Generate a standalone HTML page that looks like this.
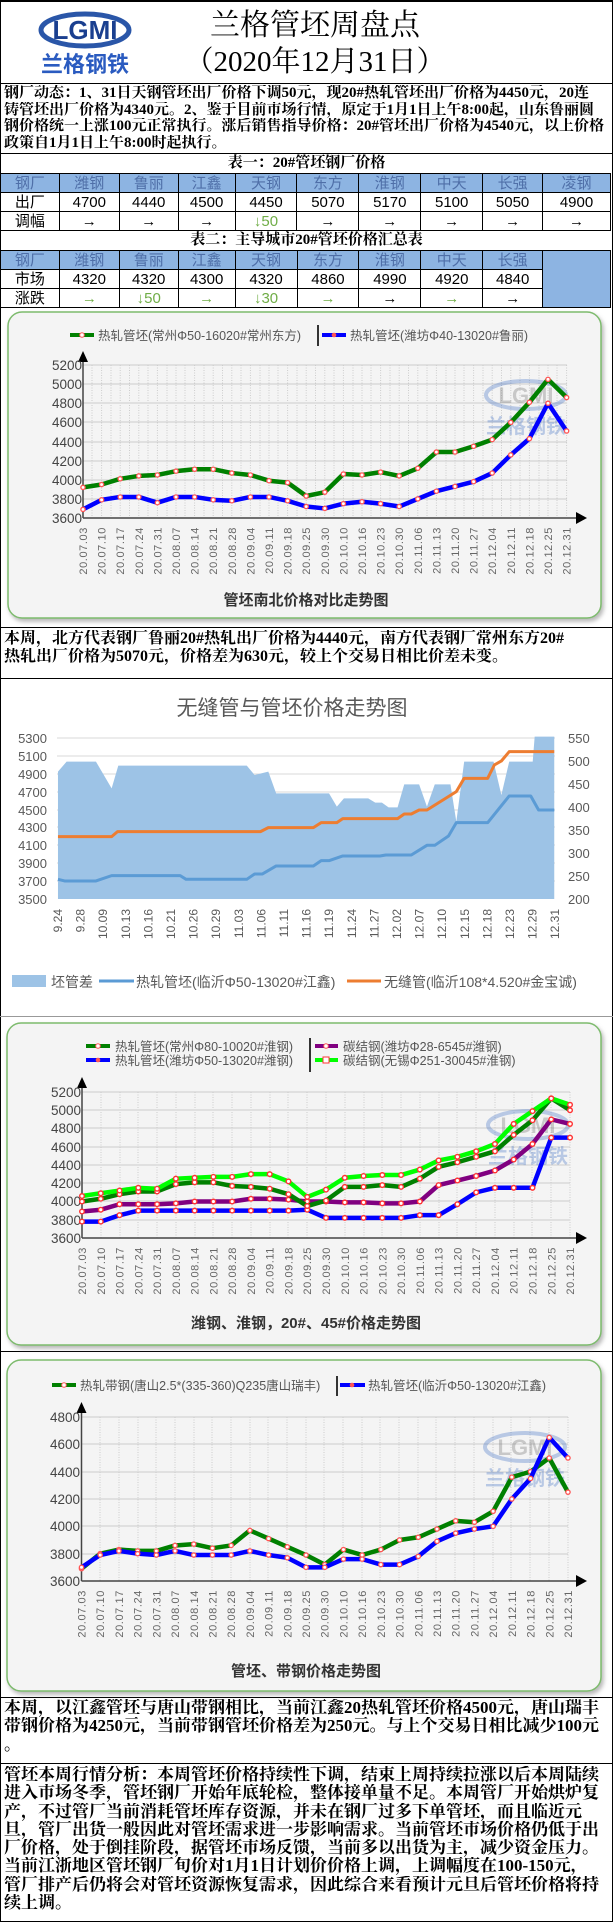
<!DOCTYPE html>
<html><head><meta charset="utf-8">
<style>
*{margin:0;padding:0;box-sizing:border-box}
body{width:613px;height:1922px;position:relative;background:#fff;font-family:"Liberation Serif","Noto Serif CJK SC",serif;overflow:hidden}
.abs{position:absolute}
.p{position:absolute;left:4px;font-weight:bold;color:#000;white-space:nowrap}
.p div{overflow:hidden}
.hl{position:absolute;left:0;width:613px;height:1px;background:#000}
table{position:absolute;left:0;border-collapse:collapse;font-family:"Liberation Sans","Noto Sans CJK SC",sans-serif;font-size:15px}
td{border:1px solid #000;text-align:center;height:19px;padding:0;line-height:17px}
.bh td{background:#8db4e2;color:#4f6fa8}
.g{color:#70ad47}
.ttl{position:absolute;left:0;width:613px;text-align:center;font-weight:bold;font-size:15px;font-family:"Liberation Serif","Noto Serif CJK SC",serif}
svg text{font-family:"Liberation Sans","Noto Sans CJK SC",sans-serif}
</style></head><body>
<div class="abs" style="left:0;top:0;width:613px;height:1922px;border:1px solid #000;border-top:2px solid #000"></div>

<svg class="abs" style="left:38px;top:8px" width="100" height="72">
<ellipse cx="47" cy="22" rx="44" ry="16" fill="none" stroke="#2a56a8" stroke-width="5"/>
<text x="47" y="31" text-anchor="middle" font-size="26" font-weight="bold" fill="#1a3f8f" font-family="Liberation Sans">LGMI</text>
<text x="47" y="64" text-anchor="middle" font-size="22" font-weight="bold" fill="#2a5bc0" font-family="Noto Serif CJK SC">兰格钢铁</text>
</svg>
<div class="abs" style="left:180px;top:8px;width:270px;text-align:center;font-size:30px;font-family:'Liberation Serif','Noto Serif CJK SC',serif;line-height:36px">兰格管坯周盘点</div>
<div class="abs" style="left:170px;top:44px;width:290px;text-align:center;font-size:29px;font-family:'Liberation Serif','Noto Serif CJK SC',serif;line-height:36px">（2020年12月31日）</div>
<div class="hl" style="top:83px"></div>

<div class="p" style="top:85px;font-size:15px;line-height:16.7px;width:607px">
<div>钢厂动态：1、31日天钢管坯出厂价格下调50元，现20#热轧管坯出厂价格为4450元，20连</div>
<div>铸管坯出厂价格为4340元。2、鉴于目前市场行情，原定于1月1日上午8:00起，山东鲁丽圆</div>
<div>钢价格统一上涨100元正常执行。涨后销售指导价格：20#管坯出厂价格为4540元，以上价格</div>
<div>政策自1月1日上午8:00时起执行。</div>
</div>
<div class="hl" style="top:153px"></div>
<div class="ttl" style="top:154px;line-height:19px">表一：20#管坯钢厂价格</div>

<table style="top:173px;width:611px">
<colgroup><col style="width:59px"><col style="width:60px"><col style="width:59px"><col style="width:57px"><col style="width:62px"><col style="width:62px"><col style="width:62px"><col style="width:62px"><col style="width:60px"><col style="width:68px"></colgroup>
<tr class="bh"><td>钢厂</td><td>潍钢</td><td>鲁丽</td><td>江鑫</td><td>天钢</td><td>东方</td><td>淮钢</td><td>中天</td><td>长强</td><td>凌钢</td></tr>
<tr><td>出厂</td><td>4700</td><td>4440</td><td>4500</td><td>4450</td><td>5070</td><td>5170</td><td>5100</td><td>5050</td><td>4900</td></tr>
<tr><td>调幅</td><td>→</td><td>→</td><td>→</td><td class="g">↓50</td><td>→</td><td>→</td><td>→</td><td>→</td><td>→</td></tr>
</table>
<div class="ttl" style="top:231px;line-height:19px">表二：主导城市20#管坯价格汇总表</div>
<table style="top:250px;width:611px">
<colgroup><col style="width:59px"><col style="width:60px"><col style="width:59px"><col style="width:57px"><col style="width:62px"><col style="width:62px"><col style="width:62px"><col style="width:62px"><col style="width:60px"><col style="width:68px"></colgroup>
<tr class="bh"><td>钢厂</td><td>潍钢</td><td>鲁丽</td><td>江鑫</td><td>天钢</td><td>东方</td><td>淮钢</td><td>中天</td><td>长强</td><td rowspan="3" style="background:#8db4e2"></td></tr>
<tr><td>市场</td><td>4320</td><td>4320</td><td>4300</td><td>4320</td><td>4860</td><td>4990</td><td>4920</td><td>4840</td></tr>
<tr><td>涨跌</td><td class="g">→</td><td class="g">↓50</td><td class="g">→</td><td class="g">↓30</td><td class="g">→</td><td>→</td><td class="g">→</td><td>→</td></tr>
</table>

<div class="hl" style="top:627px"></div>
<div class="p" style="top:630px;font-size:16px;line-height:17.5px">
<div>本周，北方代表钢厂鲁丽20#热轧出厂价格为4440元，南方代表钢厂常州东方20#</div>
<div>热轧出厂价格为5070元，价格差为630元，较上个交易日相比价差未变。</div>
</div>
<div class="hl" style="top:678px"></div>
<div class="hl" style="top:1016px;background:#999"></div>
<div class="hl" style="top:1351px"></div>
<div class="hl" style="top:1697px"></div>
<div class="p" style="top:1699px;font-size:17px;line-height:18.3px">
<div>本周，以江鑫管坯与唐山带钢相比，当前江鑫20热轧管坯价格4500元，唐山瑞丰</div>
<div>带钢价格为4250元，当前带钢管坯价格差为250元。与上个交易日相比减少100元</div>
<div>。</div>
</div>
<div class="hl" style="top:1763px"></div>
<div class="p" style="top:1766px;font-size:17px;line-height:18.3px">
<div>管坯本周行情分析：本周管坯价格持续性下调，结束上周持续拉涨以后本周陆续</div>
<div>进入市场冬季，管坯钢厂开始年底轮检，整体接单量不足。本周管厂开始烘炉复</div>
<div>产，不过管厂当前消耗管坯库存资源，并未在钢厂过多下单管坯，而且临近元</div>
<div>旦，管厂出货一般因此对管坯需求进一步影响需求。当前管坯市场价格仍低于出</div>
<div>厂价格，处于倒挂阶段，据管坯市场反馈，当前多以出货为主，减少资金压力。</div>
<div>当前江浙地区管坯钢厂旬价对1月1日计划价价格上调，上调幅度在100-150元，</div>
<div>管厂排产后仍将会对管坯资源恢复需求，因此综合来看预计元旦后管坯价格将持</div>
<div>续上调。</div>
</div>

<svg class="abs" style="left:0;top:0" width="613" height="1922">
<defs>
<filter id="sh"><feDropShadow dx="2" dy="3" stdDeviation="2" flood-color="#888" flood-opacity="0.6"/></filter>
<marker id="m1" markerUnits="userSpaceOnUse" refX="0" refY="0" overflow="visible" markerWidth="1" markerHeight="1"><ellipse cx="0" cy="0" rx="0.15" ry="29" fill="#f55"/><ellipse cx="0" cy="0" rx="0.08" ry="15" fill="#fff"/></marker>
<marker id="m3" markerUnits="userSpaceOnUse" refX="0" refY="0" overflow="visible" markerWidth="1" markerHeight="1"><ellipse cx="0" cy="0" rx="0.16" ry="33" fill="#f33"/><ellipse cx="0" cy="0" rx="0.085" ry="17" fill="#fff"/></marker>
<marker id="m4" markerUnits="userSpaceOnUse" refX="0" refY="0" overflow="visible" markerWidth="1" markerHeight="1"><ellipse cx="0" cy="0" rx="0.15" ry="20.5" fill="#f55"/><ellipse cx="0" cy="0" rx="0.08" ry="10.5" fill="#fff"/></marker>
</defs>

<rect x="8" y="312" width="593" height="306" rx="14" fill="#f4f4f4" stroke="#7dbb6d" stroke-width="1.5" filter="url(#sh)"/>
<line x1="318" y1="325" x2="318" y2="346" stroke="#333" stroke-width="2"/>
<line x1="70" y1="335" x2="94" y2="335" stroke="#008000" stroke-width="4"/><circle cx="82" cy="335" r="2.3" fill="#fff" stroke="#f55"/>
<text x="98" y="340" font-size="12.5" fill="#555">热轧管坯(常州Φ50-16020#常州东方)</text>
<line x1="322" y1="335" x2="346" y2="335" stroke="#00f" stroke-width="4"/><circle cx="334" cy="335" r="2.3" fill="#f55"/>
<text x="350" y="340" font-size="12.5" fill="#555">热轧管坯(潍坊Φ40-13020#鲁丽)</text>
<g stroke="#ccc" stroke-width="1">
<line x1="83" y1="365" x2="567" y2="365"/><line x1="83" y1="384" x2="567" y2="384"/><line x1="83" y1="403" x2="567" y2="403"/><line x1="83" y1="422" x2="567" y2="422"/><line x1="83" y1="442" x2="567" y2="442"/><line x1="83" y1="461" x2="567" y2="461"/><line x1="83" y1="480" x2="567" y2="480"/><line x1="83" y1="499" x2="567" y2="499"/>
</g>
<g stroke="#ccc" stroke-width="1" stroke-dasharray="1,1.5">
<line x1="92" y1="365" x2="92" y2="518"/><line x1="101.6" y1="365" x2="101.6" y2="518"/><line x1="111" y1="365" x2="111" y2="518"/><line x1="120.2" y1="365" x2="120.2" y2="518"/><line x1="129.5" y1="365" x2="129.5" y2="518"/><line x1="138.8" y1="365" x2="138.8" y2="518"/><line x1="148" y1="365" x2="148" y2="518"/><line x1="157.4" y1="365" x2="157.4" y2="518"/><line x1="167" y1="365" x2="167" y2="518"/><line x1="176" y1="365" x2="176" y2="518"/><line x1="185" y1="365" x2="185" y2="518"/><line x1="194.6" y1="365" x2="194.6" y2="518"/><line x1="204" y1="365" x2="204" y2="518"/><line x1="213.2" y1="365" x2="213.2" y2="518"/><line x1="222.5" y1="365" x2="222.5" y2="518"/><line x1="231.8" y1="365" x2="231.8" y2="518"/><line x1="241" y1="365" x2="241" y2="518"/><line x1="250.4" y1="365" x2="250.4" y2="518"/><line x1="260" y1="365" x2="260" y2="518"/><line x1="269" y1="365" x2="269" y2="518"/><line x1="278" y1="365" x2="278" y2="518"/><line x1="287.6" y1="365" x2="287.6" y2="518"/><line x1="297" y1="365" x2="297" y2="518"/><line x1="306.2" y1="365" x2="306.2" y2="518"/><line x1="315.5" y1="365" x2="315.5" y2="518"/><line x1="324.8" y1="365" x2="324.8" y2="518"/><line x1="334" y1="365" x2="334" y2="518"/><line x1="343.4" y1="365" x2="343.4" y2="518"/><line x1="353" y1="365" x2="353" y2="518"/><line x1="362" y1="365" x2="362" y2="518"/><line x1="371" y1="365" x2="371" y2="518"/><line x1="380.6" y1="365" x2="380.6" y2="518"/><line x1="390" y1="365" x2="390" y2="518"/><line x1="399.2" y1="365" x2="399.2" y2="518"/><line x1="408.5" y1="365" x2="408.5" y2="518"/><line x1="417.8" y1="365" x2="417.8" y2="518"/><line x1="427" y1="365" x2="427" y2="518"/><line x1="436.4" y1="365" x2="436.4" y2="518"/><line x1="446" y1="365" x2="446" y2="518"/><line x1="455" y1="365" x2="455" y2="518"/><line x1="464" y1="365" x2="464" y2="518"/><line x1="473.6" y1="365" x2="473.6" y2="518"/><line x1="483" y1="365" x2="483" y2="518"/><line x1="492.2" y1="365" x2="492.2" y2="518"/><line x1="501.5" y1="365" x2="501.5" y2="518"/><line x1="510.8" y1="365" x2="510.8" y2="518"/><line x1="520" y1="365" x2="520" y2="518"/><line x1="529.4" y1="365" x2="529.4" y2="518"/><line x1="539" y1="365" x2="539" y2="518"/><line x1="548" y1="365" x2="548" y2="518"/><line x1="557" y1="365" x2="557" y2="518"/><line x1="566.6" y1="365" x2="566.6" y2="518"/>
</g>
<g opacity="0.35"><ellipse cx="526" cy="395" rx="40" ry="14" fill="none" stroke="#4a78c8" stroke-width="4"/><text x="526" y="403" text-anchor="middle" font-size="22" font-weight="bold" fill="#777">LGMI</text><text x="526" y="433" text-anchor="middle" font-size="20" font-weight="bold" fill="#4a78c8" font-family="Noto Serif CJK SC">兰格钢铁</text></g>
<line x1="83" y1="518" x2="578" y2="518" stroke="#444" stroke-width="1.5"/><polygon points="576,512 587,518 576,524" fill="#000"/>
<line x1="83" y1="518" x2="83" y2="360" stroke="#444" stroke-width="1.5"/><polygon points="78,362 83,351 88,362" fill="#000"/>
<g font-size="13.5" fill="#444" text-anchor="end">
<text x="82" y="370">5200</text><text x="82" y="389">5000</text><text x="82" y="408">4800</text><text x="82" y="427">4600</text><text x="82" y="447">4400</text><text x="82" y="466">4200</text><text x="82" y="485">4000</text><text x="82" y="504">3800</text><text x="82" y="523">3600</text>
</g>
<g transform="matrix(18.6 0 0 -0.095625 83 862.25)" fill="none" stroke-linejoin="round">
<polyline vector-effect="non-scaling-stroke" stroke="#008000" stroke-width="4.5" marker-start="url(#m1)" marker-mid="url(#m1)" marker-end="url(#m1)" points="0,3920 1,3950 2,4010 3,4040 4,4050 5,4090 6,4110 7,4110 8,4070 9,4050 10,3990 11,3970 12,3830 13,3870 14,4060 15,4050 16,4080 17,4040 18,4120 19,4290 20,4290 21,4350 22,4420 23,4600 24,4810 25,5050 26,4860"/>
<polyline vector-effect="non-scaling-stroke" stroke="#0000ff" stroke-width="4.5" marker-start="url(#m1)" marker-mid="url(#m1)" marker-end="url(#m1)" points="0,3690 1,3790 2,3820 3,3820 4,3760 5,3820 6,3820 7,3790 8,3780 9,3820 10,3820 11,3780 12,3720 13,3700 14,3750 15,3770 16,3750 17,3720 18,3800 19,3880 20,3930 21,3980 22,4070 23,4260 24,4430 25,4800 26,4510"/>
</g>
<g font-size="11" fill="#666" text-anchor="end" letter-spacing="0.6">
<text transform="translate(87,527) rotate(-90)">20.07.03</text><text transform="translate(105.6,527) rotate(-90)">20.07.10</text><text transform="translate(124.2,527) rotate(-90)">20.07.17</text><text transform="translate(142.8,527) rotate(-90)">20.07.24</text><text transform="translate(161.4,527) rotate(-90)">20.07.31</text><text transform="translate(180,527) rotate(-90)">20.08.07</text><text transform="translate(198.6,527) rotate(-90)">20.08.14</text><text transform="translate(217.2,527) rotate(-90)">20.08.21</text><text transform="translate(235.8,527) rotate(-90)">20.08.28</text><text transform="translate(254.4,527) rotate(-90)">20.09.04</text><text transform="translate(273,527) rotate(-90)">20.09.11</text><text transform="translate(291.6,527) rotate(-90)">20.09.18</text><text transform="translate(310.2,527) rotate(-90)">20.09.25</text><text transform="translate(328.8,527) rotate(-90)">20.09.30</text><text transform="translate(347.4,527) rotate(-90)">20.10.10</text><text transform="translate(366,527) rotate(-90)">20.10.16</text><text transform="translate(384.6,527) rotate(-90)">20.10.23</text><text transform="translate(403.2,527) rotate(-90)">20.10.30</text><text transform="translate(421.8,527) rotate(-90)">20.11.06</text><text transform="translate(440.4,527) rotate(-90)">20.11.13</text><text transform="translate(459,527) rotate(-90)">20.11.20</text><text transform="translate(477.6,527) rotate(-90)">20.11.27</text><text transform="translate(496.2,527) rotate(-90)">20.12.04</text><text transform="translate(514.8,527) rotate(-90)">20.12.11</text><text transform="translate(533.4,527) rotate(-90)">20.12.18</text><text transform="translate(552,527) rotate(-90)">20.12.25</text><text transform="translate(570.6,527) rotate(-90)">20.12.31</text>
</g>
<text x="306" y="605" text-anchor="middle" font-size="15" font-weight="bold" fill="#333">管坯南北价格对比走势图</text>

<rect x="2" y="679" width="609" height="336" fill="#fff"/>
<text x="292" y="715" text-anchor="middle" font-size="21" fill="#595959">无缝管与管坯价格走势图</text>
<g stroke="#d9d9d9" stroke-width="1">
<line x1="57" y1="738" x2="555" y2="738"/><line x1="57" y1="756" x2="555" y2="756"/><line x1="57" y1="774" x2="555" y2="774"/><line x1="57" y1="792" x2="555" y2="792"/><line x1="57" y1="810" x2="555" y2="810"/><line x1="57" y1="827" x2="555" y2="827"/><line x1="57" y1="845" x2="555" y2="845"/><line x1="57" y1="863" x2="555" y2="863"/><line x1="57" y1="881" x2="555" y2="881"/>
</g>
<g transform="translate(0,620) scale(0.3917,0.3333)">
<polygon fill="#9dc3e6" points="148,455 170,425 245,425 285,505 302,437 630,437 650,465 685,455 705,520 840,520 860,560 878,535 940,535 958,548 975,548 992,562 1015,562 1032,493 1070,493 1090,560 1110,493 1150,493 1165,605 1185,425 1260,425 1280,525 1300,425 1360,425 1365,350 1415,350 1415,837 148,837"/>
<polyline vector-effect="non-scaling-stroke" fill="none" stroke="#5b9bd5" stroke-width="3" stroke-linejoin="round" points="148,778 165,783 245,783 285,767 460,767 475,778 630,778 650,762 670,762 705,738 800,738 820,722 840,722 875,708 970,708 985,705 1050,705 1090,676 1110,676 1145,648 1165,608 1245,608 1300,528 1355,528 1375,570 1415,570"/>
<polyline vector-effect="non-scaling-stroke" fill="none" stroke="#ed7d31" stroke-width="3" stroke-linejoin="round" points="148,650 285,650 300,635 665,635 685,623 800,623 820,608 860,608 875,596 1015,596 1032,582 1050,582 1070,570 1090,570 1165,515 1185,475 1245,475 1262,435 1280,423 1300,395 1415,395"/>
</g>
<g font-size="13" fill="#595959" text-anchor="end">
<text x="47" y="743">5300</text><text x="47" y="761">5100</text><text x="47" y="779">4900</text><text x="47" y="797">4700</text><text x="47" y="815">4500</text><text x="47" y="832">4300</text><text x="47" y="850">4100</text><text x="47" y="868">3900</text><text x="47" y="886">3700</text><text x="47" y="904">3500</text>
</g>
<g font-size="13" fill="#595959">
<text x="568" y="743">550</text><text x="568" y="766">500</text><text x="568" y="789">450</text><text x="568" y="812">400</text><text x="568" y="835">350</text><text x="568" y="858">300</text><text x="568" y="881">250</text><text x="568" y="904">200</text>
</g>
<g font-size="12" fill="#595959" text-anchor="end">
<text transform="translate(62,909) rotate(-90)">9.24</text><text transform="translate(84.6,909) rotate(-90)">9.28</text><text transform="translate(107.2,909) rotate(-90)">10.09</text><text transform="translate(129.8,909) rotate(-90)">10.13</text><text transform="translate(152.4,909) rotate(-90)">10.16</text><text transform="translate(175,909) rotate(-90)">10.21</text><text transform="translate(197.6,909) rotate(-90)">10.26</text><text transform="translate(220.2,909) rotate(-90)">10.29</text><text transform="translate(242.8,909) rotate(-90)">11.03</text><text transform="translate(265.4,909) rotate(-90)">11.06</text><text transform="translate(288,909) rotate(-90)">11.11</text><text transform="translate(310.6,909) rotate(-90)">11.16</text><text transform="translate(333.2,909) rotate(-90)">11.19</text><text transform="translate(355.8,909) rotate(-90)">11.24</text><text transform="translate(378.4,909) rotate(-90)">11.27</text><text transform="translate(401,909) rotate(-90)">12.02</text><text transform="translate(423.6,909) rotate(-90)">12.07</text><text transform="translate(446.2,909) rotate(-90)">12.10</text><text transform="translate(468.8,909) rotate(-90)">12.15</text><text transform="translate(491.4,909) rotate(-90)">12.18</text><text transform="translate(514,909) rotate(-90)">12.23</text><text transform="translate(536.6,909) rotate(-90)">12.29</text><text transform="translate(559.2,909) rotate(-90)">12.31</text>
</g>
<rect x="12" y="975" width="34" height="12" fill="#9dc3e6"/>
<text x="51" y="987" font-size="14" fill="#595959">坯管差</text>
<line x1="99" y1="981" x2="134" y2="981" stroke="#5b9bd5" stroke-width="3"/>
<text x="136" y="987" font-size="14" fill="#595959">热轧管坯(临沂Φ50-13020#江鑫)</text>
<line x1="347" y1="981" x2="381" y2="981" stroke="#ed7d31" stroke-width="3"/>
<text x="384" y="987" font-size="14" fill="#595959">无缝管(临沂108*4.520#金宝诚)</text>

<rect x="7" y="1023" width="594" height="322" rx="14" fill="#f4f4f4" stroke="#7dbb6d" stroke-width="1.5" filter="url(#sh)"/>
<line x1="310" y1="1038" x2="310" y2="1072" stroke="#333" stroke-width="2"/>
<line x1="86" y1="1046" x2="110" y2="1046" stroke="#008000" stroke-width="4"/><circle cx="98" cy="1046" r="2.3" fill="#fff" stroke="#f55"/>
<text x="115" y="1051" font-size="12.5" fill="#555">热轧管坯(常州Φ80-10020#淮钢)</text>
<line x1="86" y1="1060" x2="110" y2="1060" stroke="#00f" stroke-width="4"/><circle cx="98" cy="1060" r="2.3" fill="#f55"/>
<text x="115" y="1065" font-size="12.5" fill="#555">热轧管坯(潍坊Φ50-13020#潍钢)</text>
<line x1="315" y1="1046" x2="338" y2="1046" stroke="#800080" stroke-width="4"/><circle cx="326" cy="1046" r="2.3" fill="#fff" stroke="#f55"/>
<text x="343" y="1051" font-size="12.5" fill="#555">碳结钢(潍坊Φ28-6545#潍钢)</text>
<line x1="315" y1="1060" x2="338" y2="1060" stroke="#00ff00" stroke-width="4"/><rect x="323" y="1057" width="6" height="6" fill="#fff" stroke="#f33"/>
<text x="343" y="1065" font-size="12.5" fill="#555">碳结钢(无锡Φ251-30045#淮钢)</text>
<g stroke="#ccc" stroke-width="1">
<line x1="82" y1="1092" x2="570" y2="1092"/><line x1="82" y1="1110" x2="570" y2="1110"/><line x1="82" y1="1128" x2="570" y2="1128"/><line x1="82" y1="1147" x2="570" y2="1147"/><line x1="82" y1="1165" x2="570" y2="1165"/><line x1="82" y1="1183" x2="570" y2="1183"/><line x1="82" y1="1201" x2="570" y2="1201"/><line x1="82" y1="1220" x2="570" y2="1220"/>
</g>
<g stroke="#ccc" stroke-width="1" stroke-dasharray="1,1.5">
<line x1="101" y1="1092" x2="101" y2="1238"/><line x1="120" y1="1092" x2="120" y2="1238"/><line x1="138" y1="1092" x2="138" y2="1238"/><line x1="157" y1="1092" x2="157" y2="1238"/><line x1="176" y1="1092" x2="176" y2="1238"/><line x1="195" y1="1092" x2="195" y2="1238"/><line x1="213" y1="1092" x2="213" y2="1238"/><line x1="232" y1="1092" x2="232" y2="1238"/><line x1="251" y1="1092" x2="251" y2="1238"/><line x1="270" y1="1092" x2="270" y2="1238"/><line x1="288" y1="1092" x2="288" y2="1238"/><line x1="307" y1="1092" x2="307" y2="1238"/><line x1="326" y1="1092" x2="326" y2="1238"/><line x1="345" y1="1092" x2="345" y2="1238"/><line x1="364" y1="1092" x2="364" y2="1238"/><line x1="382" y1="1092" x2="382" y2="1238"/><line x1="401" y1="1092" x2="401" y2="1238"/><line x1="420" y1="1092" x2="420" y2="1238"/><line x1="439" y1="1092" x2="439" y2="1238"/><line x1="457" y1="1092" x2="457" y2="1238"/><line x1="476" y1="1092" x2="476" y2="1238"/><line x1="495" y1="1092" x2="495" y2="1238"/><line x1="514" y1="1092" x2="514" y2="1238"/><line x1="532" y1="1092" x2="532" y2="1238"/><line x1="551" y1="1092" x2="551" y2="1238"/><line x1="570" y1="1092" x2="570" y2="1238"/>
</g>
<g opacity="0.35"><ellipse cx="528" cy="1125" rx="40" ry="14" fill="none" stroke="#4a78c8" stroke-width="4"/><text x="528" y="1133" text-anchor="middle" font-size="22" font-weight="bold" fill="#777">LGMI</text><text x="528" y="1163" text-anchor="middle" font-size="20" font-weight="bold" fill="#4a78c8" font-family="Noto Serif CJK SC">兰格钢铁</text></g>
<line x1="82" y1="1238" x2="578" y2="1238" stroke="#444" stroke-width="1.5"/><polygon points="576,1232 587,1238 576,1244" fill="#000"/>
<line x1="82" y1="1238" x2="82" y2="1086" stroke="#444" stroke-width="1.5"/><polygon points="77,1088 82,1077 87,1088" fill="#000"/>
<g font-size="13.5" fill="#444" text-anchor="end">
<text x="81" y="1097">5200</text><text x="81" y="1115">5000</text><text x="81" y="1133">4800</text><text x="81" y="1152">4600</text><text x="81" y="1170">4400</text><text x="81" y="1188">4200</text><text x="81" y="1206">4000</text><text x="81" y="1225">3800</text><text x="81" y="1243">3600</text>
</g>
<g transform="matrix(18.77 0 0 -0.09125 82 1566.5)" fill="none" stroke-linejoin="round">
<polyline vector-effect="non-scaling-stroke" stroke="#800080" stroke-width="4.5" marker-start="url(#m3)" marker-mid="url(#m3)" marker-end="url(#m3)" points="0,3890 1,3910 2,3970 3,3970 4,3970 5,3980 6,4000 7,4000 8,4000 9,4030 10,4030 11,4020 12,4000 13,4000 14,3990 15,3990 16,3980 17,3980 18,4000 19,4180 20,4230 21,4280 22,4340 23,4460 24,4630 25,4900 26,4850"/>
<polyline vector-effect="non-scaling-stroke" stroke="#0000ff" stroke-width="4.5" marker-start="url(#m3)" marker-mid="url(#m3)" marker-end="url(#m3)" points="0,3780 1,3780 2,3850 3,3900 4,3900 5,3900 6,3900 7,3900 8,3900 9,3900 10,3900 11,3900 12,3910 13,3820 14,3820 15,3820 16,3820 17,3820 18,3850 19,3850 20,3970 21,4100 22,4150 23,4150 24,4150 25,4700 26,4700"/>
<polyline vector-effect="non-scaling-stroke" stroke="#008000" stroke-width="4.5" marker-start="url(#m3)" marker-mid="url(#m3)" marker-end="url(#m3)" points="0,4000 1,4030 2,4080 3,4110 4,4110 5,4190 6,4210 7,4210 8,4170 9,4160 10,4140 11,4080 12,3950 13,4010 14,4160 15,4160 16,4180 17,4160 18,4250 19,4380 20,4430 21,4490 22,4550 23,4730 24,4890 25,5130 26,5000"/>
<polyline vector-effect="non-scaling-stroke" stroke="#00ff00" stroke-width="4.5" marker-start="url(#m3)" marker-mid="url(#m3)" marker-end="url(#m3)" points="0,4060 1,4090 2,4120 3,4150 4,4140 5,4250 6,4260 7,4270 8,4270 9,4300 10,4300 11,4220 12,4050 13,4130 14,4260 15,4280 16,4290 17,4290 18,4350 19,4450 20,4490 21,4550 22,4630 23,4850 24,4990 25,5130 26,5060"/>
</g>
<g font-size="11" fill="#666" text-anchor="end" letter-spacing="0.6">
<text transform="translate(86,1247) rotate(-90)">20.07.03</text><text transform="translate(104.8,1247) rotate(-90)">20.07.10</text><text transform="translate(123.5,1247) rotate(-90)">20.07.17</text><text transform="translate(142.3,1247) rotate(-90)">20.07.24</text><text transform="translate(161.1,1247) rotate(-90)">20.07.31</text><text transform="translate(179.9,1247) rotate(-90)">20.08.07</text><text transform="translate(198.6,1247) rotate(-90)">20.08.14</text><text transform="translate(217.4,1247) rotate(-90)">20.08.21</text><text transform="translate(236.2,1247) rotate(-90)">20.08.28</text><text transform="translate(254.9,1247) rotate(-90)">20.09.04</text><text transform="translate(273.7,1247) rotate(-90)">20.09.11</text><text transform="translate(292.5,1247) rotate(-90)">20.09.18</text><text transform="translate(311.2,1247) rotate(-90)">20.09.25</text><text transform="translate(330,1247) rotate(-90)">20.09.30</text><text transform="translate(348.8,1247) rotate(-90)">20.10.10</text><text transform="translate(367.6,1247) rotate(-90)">20.10.16</text><text transform="translate(386.3,1247) rotate(-90)">20.10.23</text><text transform="translate(405.1,1247) rotate(-90)">20.10.30</text><text transform="translate(423.9,1247) rotate(-90)">20.11.06</text><text transform="translate(442.6,1247) rotate(-90)">20.11.13</text><text transform="translate(461.4,1247) rotate(-90)">20.11.20</text><text transform="translate(480.2,1247) rotate(-90)">20.11.27</text><text transform="translate(498.9,1247) rotate(-90)">20.12.04</text><text transform="translate(517.7,1247) rotate(-90)">20.12.11</text><text transform="translate(536.5,1247) rotate(-90)">20.12.18</text><text transform="translate(555.3,1247) rotate(-90)">20.12.25</text><text transform="translate(574,1247) rotate(-90)">20.12.31</text>
</g>
<text x="306" y="1328" text-anchor="middle" font-size="15" font-weight="bold" fill="#333">潍钢、淮钢，20#、45#价格走势图</text>

<rect x="7" y="1360" width="594" height="331" rx="14" fill="#f4f4f4" stroke="#7dbb6d" stroke-width="1.5" filter="url(#sh)"/>
<line x1="337" y1="1376" x2="337" y2="1396" stroke="#333" stroke-width="2"/>
<line x1="52" y1="1385" x2="76" y2="1385" stroke="#008000" stroke-width="4"/><circle cx="64" cy="1385" r="2.3" fill="#fff" stroke="#f55"/>
<text x="80" y="1390" font-size="12.5" fill="#555">热轧带钢(唐山2.5*(335-360)Q235唐山瑞丰)</text>
<line x1="340" y1="1385" x2="365" y2="1385" stroke="#00f" stroke-width="4"/><circle cx="352" cy="1385" r="2.3" fill="#f55"/>
<text x="368" y="1390" font-size="12.5" fill="#555">热轧管坯(临沂Φ50-13020#江鑫)</text>
<g stroke="#ccc" stroke-width="1">
<line x1="82" y1="1417" x2="568" y2="1417"/><line x1="82" y1="1444" x2="568" y2="1444"/><line x1="82" y1="1472" x2="568" y2="1472"/><line x1="82" y1="1499" x2="568" y2="1499"/><line x1="82" y1="1526" x2="568" y2="1526"/><line x1="82" y1="1554" x2="568" y2="1554"/>
</g>
<g stroke="#ccc" stroke-width="1" stroke-dasharray="1,1.5">
<line x1="100" y1="1417" x2="100" y2="1581"/><line x1="119" y1="1417" x2="119" y2="1581"/><line x1="138" y1="1417" x2="138" y2="1581"/><line x1="156" y1="1417" x2="156" y2="1581"/><line x1="175" y1="1417" x2="175" y2="1581"/><line x1="194" y1="1417" x2="194" y2="1581"/><line x1="212" y1="1417" x2="212" y2="1581"/><line x1="231" y1="1417" x2="231" y2="1581"/><line x1="250" y1="1417" x2="250" y2="1581"/><line x1="268" y1="1417" x2="268" y2="1581"/><line x1="287" y1="1417" x2="287" y2="1581"/><line x1="306" y1="1417" x2="306" y2="1581"/><line x1="324" y1="1417" x2="324" y2="1581"/><line x1="343" y1="1417" x2="343" y2="1581"/><line x1="362" y1="1417" x2="362" y2="1581"/><line x1="380" y1="1417" x2="380" y2="1581"/><line x1="399" y1="1417" x2="399" y2="1581"/><line x1="418" y1="1417" x2="418" y2="1581"/><line x1="436" y1="1417" x2="436" y2="1581"/><line x1="455" y1="1417" x2="455" y2="1581"/><line x1="474" y1="1417" x2="474" y2="1581"/><line x1="493" y1="1417" x2="493" y2="1581"/><line x1="511" y1="1417" x2="511" y2="1581"/><line x1="530" y1="1417" x2="530" y2="1581"/><line x1="549" y1="1417" x2="549" y2="1581"/><line x1="568" y1="1417" x2="568" y2="1581"/>
</g>
<g opacity="0.35"><ellipse cx="525" cy="1447" rx="40" ry="14" fill="none" stroke="#4a78c8" stroke-width="4"/><text x="525" y="1455" text-anchor="middle" font-size="22" font-weight="bold" fill="#777">LGMI</text><text x="525" y="1485" text-anchor="middle" font-size="20" font-weight="bold" fill="#4a78c8" font-family="Noto Serif CJK SC">兰格钢铁</text></g>
<line x1="81.5" y1="1581" x2="578" y2="1581" stroke="#444" stroke-width="1.5"/><polygon points="576,1575 587,1581 576,1587" fill="#000"/>
<line x1="81.5" y1="1581" x2="81.5" y2="1411" stroke="#444" stroke-width="1.5"/><polygon points="76.5,1413 81.5,1402 86.5,1413" fill="#000"/>
<g font-size="13.5" fill="#444" text-anchor="end">
<text x="80" y="1422">4800</text><text x="80" y="1449">4600</text><text x="80" y="1477">4400</text><text x="80" y="1504">4200</text><text x="80" y="1531">4000</text><text x="80" y="1559">3800</text><text x="80" y="1586">3600</text>
</g>
<g transform="matrix(18.71 0 0 -0.13667 81.5 2073)" fill="none" stroke-linejoin="round">
<polyline vector-effect="non-scaling-stroke" stroke="#008000" stroke-width="4.5" marker-start="url(#m4)" marker-mid="url(#m4)" marker-end="url(#m4)" points="0,3690 1,3800 2,3830 3,3820 4,3820 5,3860 6,3870 7,3840 8,3860 9,3970 10,3910 11,3850 12,3790 13,3720 14,3830 15,3790 16,3830 17,3900 18,3920 19,3980 20,4040 21,4030 22,4110 23,4360 24,4400 25,4500 26,4250"/>
<polyline vector-effect="non-scaling-stroke" stroke="#0000ff" stroke-width="4.5" marker-start="url(#m4)" marker-mid="url(#m4)" marker-end="url(#m4)" points="0,3700 1,3790 2,3820 3,3800 4,3790 5,3820 6,3790 7,3790 8,3790 9,3820 10,3790 11,3770 12,3700 13,3700 14,3760 15,3760 16,3720 17,3720 18,3780 19,3890 20,3950 21,3980 22,4000 23,4200 24,4350 25,4650 26,4500"/>
</g>
<g font-size="11" fill="#666" text-anchor="end" letter-spacing="0.6">
<text transform="translate(85.5,1590) rotate(-90)">20.07.03</text><text transform="translate(104.2,1590) rotate(-90)">20.07.10</text><text transform="translate(122.9,1590) rotate(-90)">20.07.17</text><text transform="translate(141.6,1590) rotate(-90)">20.07.24</text><text transform="translate(160.3,1590) rotate(-90)">20.07.31</text><text transform="translate(179,1590) rotate(-90)">20.08.07</text><text transform="translate(197.8,1590) rotate(-90)">20.08.14</text><text transform="translate(216.5,1590) rotate(-90)">20.08.21</text><text transform="translate(235.2,1590) rotate(-90)">20.08.28</text><text transform="translate(253.9,1590) rotate(-90)">20.09.04</text><text transform="translate(272.6,1590) rotate(-90)">20.09.11</text><text transform="translate(291.3,1590) rotate(-90)">20.09.18</text><text transform="translate(310,1590) rotate(-90)">20.09.25</text><text transform="translate(328.7,1590) rotate(-90)">20.09.30</text><text transform="translate(347.4,1590) rotate(-90)">20.10.10</text><text transform="translate(366.2,1590) rotate(-90)">20.10.16</text><text transform="translate(384.9,1590) rotate(-90)">20.10.23</text><text transform="translate(403.6,1590) rotate(-90)">20.10.30</text><text transform="translate(422.3,1590) rotate(-90)">20.11.06</text><text transform="translate(441,1590) rotate(-90)">20.11.13</text><text transform="translate(459.7,1590) rotate(-90)">20.11.20</text><text transform="translate(478.4,1590) rotate(-90)">20.11.27</text><text transform="translate(497.1,1590) rotate(-90)">20.12.04</text><text transform="translate(515.8,1590) rotate(-90)">20.12.11</text><text transform="translate(534.6,1590) rotate(-90)">20.12.18</text><text transform="translate(553.3,1590) rotate(-90)">20.12.25</text><text transform="translate(572,1590) rotate(-90)">20.12.31</text>
</g>
<text x="306" y="1676" text-anchor="middle" font-size="15" font-weight="bold" fill="#333">管坯、带钢价格走势图</text>
</svg>
</body></html>
